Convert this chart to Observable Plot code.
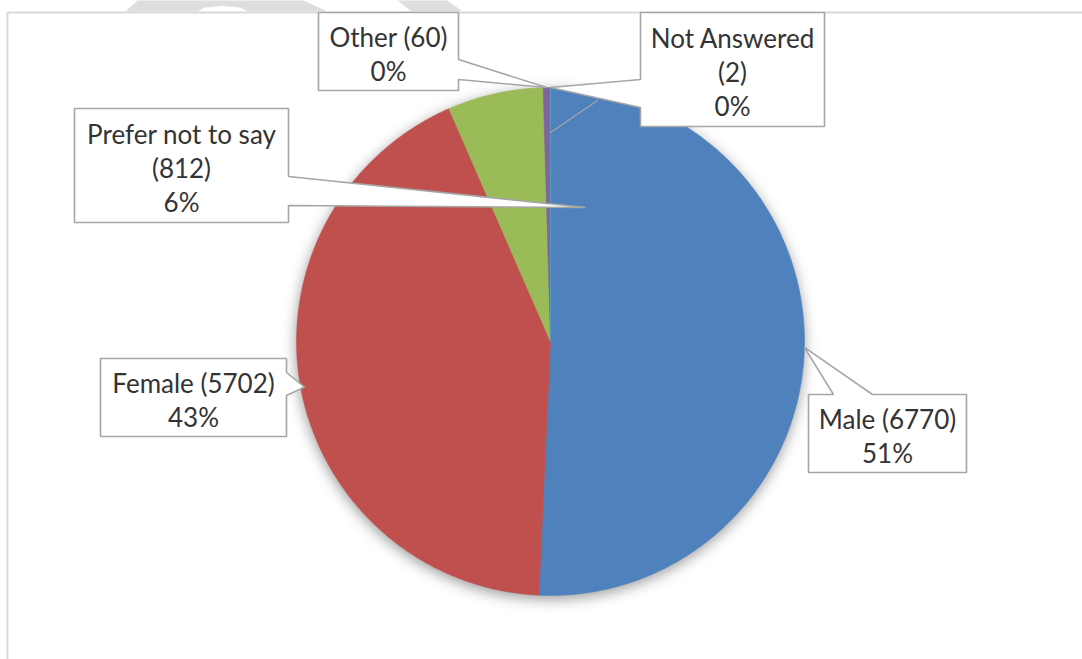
<!DOCTYPE html>
<html><head><meta charset="utf-8">
<script src="https://cdn.jsdelivr.net/npm/d3@7"></script>
<script src="https://cdn.jsdelivr.net/npm/@observablehq/plot@0.6"></script>
<style>html,body{margin:0;padding:0;background:#fff;overflow:hidden} svg{display:block}</style>
</head><body><div id="chart"></div>
<script>
// ---- data ----
const categories = ["Male", "Female", "Prefer not to say", "Other", "Not Answered"];
const counts = [6770, 5702, 812, 60, 2];
const sliceColors = ["#4F81BD", "#C0504D", "#9BBB59", "#8064A2", "#4BACC6"];
const wrapName = [false, false, true, false, true];

// ---- layout ----
const W = 1082, H = 659;
const pieLayout = {cx: 550, cy: 341, r: 254};
const calloutLayout = {
  "Male":              {box: [808, 394, 966, 472], side: "top",   base: [833, 872], tipR: 1.0},
  "Female":            {box: [100, 358, 286, 436], side: "right", base: [372, 395], tipR: 0.985},
  "Prefer not to say": {box: [74, 108, 288, 222],  side: "right", base: [176, 205], tipR: 0.545, tipAngleDeg: 14.6},
  "Other":             {box: [318, 12, 458, 90],   side: "right", base: [59, 79],   tipR: 1.0},
  "Not Answered":      {box: [640, 12, 824, 126],  side: "left",  base: [79, 107],  tipR: 1.0}
};
const frame = {left: 7, top: 12, color: "#d9d9d9"};
const watermark = [
  [[125, 11], [137, 0], [303, 0], [327, 11], [247, 11], [240, 7], [222, 5.5], [204, 7], [197, 11], [125, 11]],
  [[397, 0], [447, 0], [462, 11], [411, 11], [397, 0]]
];
const naLeader = [[550, 132], [597, 100]];

// ---- build geometry ----
const total = d3.sum(counts);
const pie = d3.pie().sort(null).value(d => d.count).startAngle(0).endAngle(2 * Math.PI);
const rows = categories.map((c, i) => ({category: c, count: counts[i], color: sliceColors[i], wrap: wrapName[i]}));
const arcs = pie(rows);
const P = (a, rr) => [pieLayout.cx + rr * Math.sin(a), pieLayout.cy - rr * Math.cos(a)];

function arcPoints(a0, a1, withCenter) {
  const pts = [];
  if (withCenter) pts.push({x: pieLayout.cx, y: pieLayout.cy});
  const n = Math.max(2, Math.ceil((a1 - a0) / (Math.PI / 360)));
  for (let j = 0; j <= n; j++) {
    const [x, y] = P(a0 + (a1 - a0) * j / n, pieLayout.r);
    pts.push({x, y});
  }
  if (withCenter) pts.push({x: pieLayout.cx, y: pieLayout.cy});
  return pts;
}

const sliceMarks = arcs.map(a =>
  Plot.line(arcPoints(a.startAngle, a.endAngle, true),
    {x: "x", y: "y", fill: a.data.color, stroke: a.data.color, strokeWidth: 0.5})
);
const shadowPts = arcPoints(0, 2 * Math.PI, false);

function boxPts(c, tip) {
  const [x0, y0, x1, y1] = c.box, [b0, b1] = c.base;
  const pts = [[x0, y0]];
  if (c.side === "top") pts.push([b0, y0], tip, [b1, y0]);
  pts.push([x1, y0]);
  if (c.side === "right") pts.push([x1, b0], tip, [x1, b1]);
  pts.push([x1, y1], [x0, y1]);
  if (c.side === "left") pts.push([x0, b1], tip, [x0, b0]);
  pts.push([x0, y0]);
  return pts;
}

const calloutPts = [];
const labelRows = [];
arcs.forEach(a => {
  const name = a.data.category;
  const c = calloutLayout[name];
  const mid = c.tipAngleDeg != null ? c.tipAngleDeg * Math.PI / 180 : (a.startAngle + a.endAngle) / 2;
  const tip = P(mid, pieLayout.r * c.tipR);
  boxPts(c, tip).forEach(([x, y]) => calloutPts.push({k: name, x, y}));
  const pct = Math.round(a.data.count / total * 100) + "%";
  const head = a.data.wrap ? name + "\n(" + a.data.count + ")" : name + " (" + a.data.count + ")";
  labelRows.push({x: (c.box[0] + c.box[2]) / 2, y: (c.box[1] + c.box[3]) / 2 + 2, text: head + "\n" + pct});
});

const wmPts = [];
watermark.forEach((poly, i) => poly.forEach(([x, y]) => wmPts.push({k: "w" + i, x, y})));
const leaderPts = naLeader.map(([x, y]) => ({x, y}));

const chart = Plot.plot({
  width: W, height: H,
  margin: 0,
  x: {domain: [0, W], range: [0, W], axis: null},
  y: {domain: [0, H], range: [0, H], axis: null},
  style: {fontFamily: "Lato, 'Liberation Sans', sans-serif", background: "white", overflow: "visible"},
  marks: [
    Plot.line(wmPts, {x: "x", y: "y", z: "k", fill: "#dedede", stroke: "none"}),
    Plot.ruleY([frame.top], {x1: frame.left, x2: W, stroke: frame.color, strokeWidth: 2}),
    Plot.ruleX([frame.left], {y1: frame.top, y2: H, stroke: frame.color, strokeWidth: 2}),
    Plot.line(shadowPts, {x: "x", y: "y", fill: "#000", fillOpacity: 0.4, stroke: "none", className: "pieshadow"}),
    ...sliceMarks,
    Plot.line(leaderPts, {x: "x", y: "y", stroke: "#a6a6a6", strokeWidth: 1.2}),
    Plot.line(calloutPts, {x: "x", y: "y", z: "k", fill: "white", stroke: "#a6a6a6", strokeWidth: 1.6, strokeLinejoin: "miter"}),
    Plot.text(labelRows, {x: "x", y: "y", text: "text", fontSize: 26, lineHeight: 34 / 26, textAnchor: "middle", lineAnchor: "middle", fill: "#333333"})
  ]
});

// soft drop shadow under the pie: blur the shadow disc (the 4th mark group)
const groups = chart.querySelectorAll(":scope > g");
const shadowG = groups[3];
if (shadowG) {
  shadowG.setAttribute("transform", "translate(0,4)");
  shadowG.style.filter = "blur(7px)";
}
document.getElementById("chart").appendChild(chart);
</script>
</body></html>
